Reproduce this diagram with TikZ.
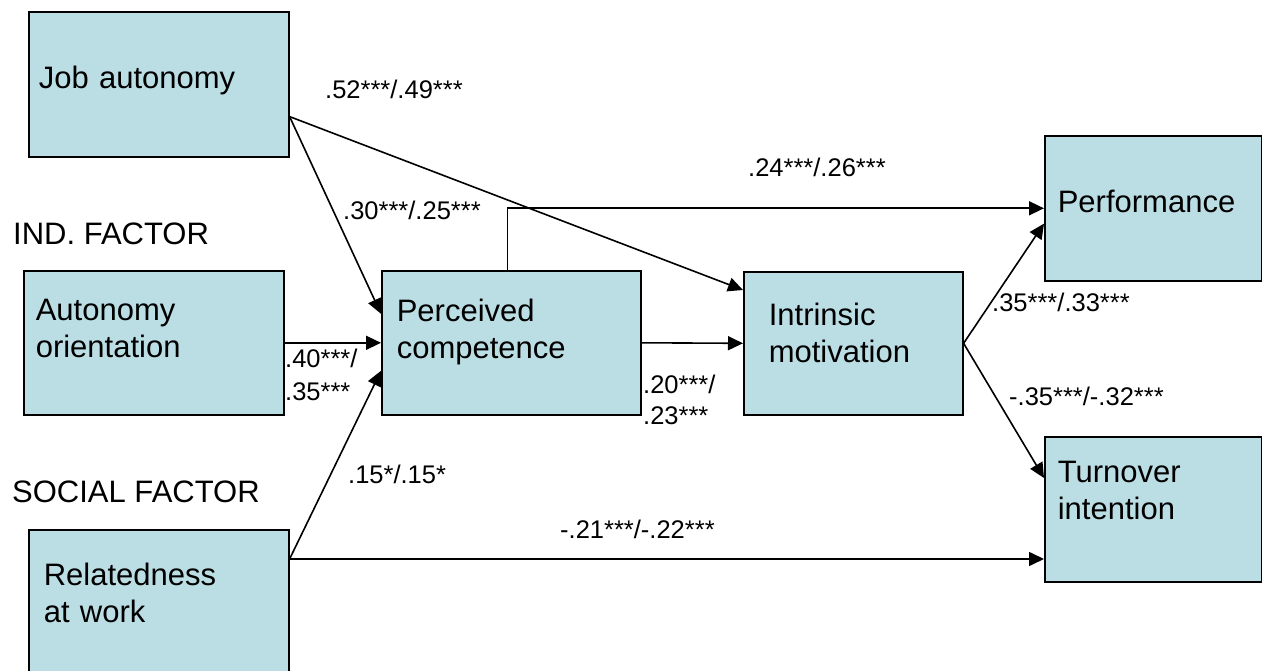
\documentclass[tikz,border=0pt]{standalone}
\usepackage{fontspec}
\setmainfont{Liberation Sans}
\usetikzlibrary{arrows.meta,calc}
\definecolor{modelfill}{RGB}{187,222,228}
\definecolor{modeldark}{RGB}{0,0,0}

\begin{document}
\begin{tikzpicture}[x=1pt,y=-1pt,
    varbox/.style={draw=modeldark,fill=modelfill,line width=1.6pt,anchor=north west,
      inner ysep=0pt,align=left,font=\fontsize{31}{37}\selectfont},
    link/.style={draw=modeldark,line width=1.6pt,-{Triangle[length=15pt,width=14pt]}},
    coef/.style={anchor=base west,inner sep=0pt,font=\fontsize{25.5}{33}\selectfont},
    factorhead/.style={anchor=base west,inner sep=0pt,font=\fontsize{31}{37}\selectfont}]
  \path[use as bounding box,fill=white] (0,0) rectangle (1262,671);

  % variables
  \node[varbox,inner xsep=10pt,text width=240pt,text height=77pt,text depth=68pt] (jobaut) at (28,11) {Job autonomy};
  \node[varbox,inner xsep=12pt,text width=236pt,text height=50pt,text depth=94pt] (autor) at (23,270) {Autonomy\\orientation};
  \node[varbox,inner xsep=15pt,text width=230pt,text height=56pt,text depth=89pt] (relat) at (28,529) {Relatedness\\at work};
  \node[varbox,inner xsep=15pt,text width=229pt,text height=51pt,text depth=93pt] (percomp) at (381,270) {Perceived\\competence};
  \node[varbox,inner xsep=25pt,text width=169pt,text height=54pt,text depth=89pt] (intrmot) at (743,271) {Intrinsic\\motivation};
  \node[varbox,inner xsep=13pt,text width=191pt,text height=77pt,text depth=68pt] (perf) at (1044,135) {Performance};
  \node[varbox,inner xsep=13pt,text width=191pt,text height=46pt,text depth=99pt] (turn) at (1044,436) {Turnover\\intention};

  \node[factorhead] (indfac) at (13,245) {IND. FACTOR};
  \node[factorhead] (socfac) at (12,502) {SOCIAL FACTOR};

  % paths
  \coordinate (jobout) at ([yshift=41pt]jobaut.south east);
  \coordinate (relout) at ([yshift=-30pt]relat.north east);
  \draw[link] (jobout) -- ([yshift=29pt]percomp.west);
  \draw[link] (autor.east) -- (percomp.west);
  \draw[link] (relout) -- ([yshift=-28pt]percomp.west);
  \draw[link] (jobout) -- ([yshift=-19pt]intrmot.north west);
  \draw[link] ([xshift=-4pt]percomp.north) |- (perf.west);
  \draw[link] (percomp.east) -- (intrmot.west);
  \draw[link] (intrmot.east) -- ([yshift=58pt]perf.south west);
  \draw[link] (intrmot.east) -- ([yshift=-42pt]turn.north west);
  \draw[link] (relout) -- (relout -| turn.west);

  % coefficients
  \node[coef] (c52) at (325,99) {.52***/.49***};
  \node[coef] (c30) at (343,220) {.30***/.25***};
  \node[coef] (c24) at (748,177) {.24***/.26***};
  \node[coef,anchor=north west,align=left] (c40) at (285,348.5) {.40***/\\.35***};
  \node[coef,anchor=north west,align=left] (c20) at (643,374.5) {.20***/\\[-2pt].23***};
  \node[coef] (c35) at (992,312) {.35***/.33***};
  \node[coef] (cm35) at (1009,405) {-.35***/-.32***};
  \node[coef] (c15) at (348,483) {.15*/.15*};
  \node[coef] (cm21) at (560,538) {-.21***/-.22***};
\end{tikzpicture}
\end{document}
